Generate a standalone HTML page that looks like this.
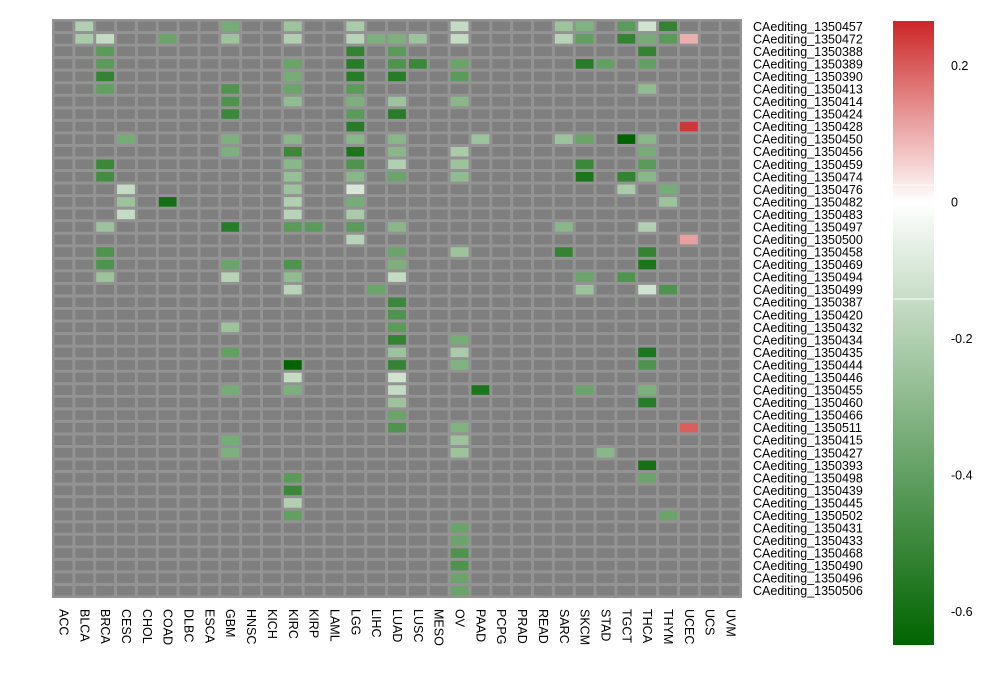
<!DOCTYPE html>
<html><head><meta charset="utf-8"><style>
body{margin:0;background:#fff;}
svg{display:block;font-family:"Liberation Sans",sans-serif;}
</style></head><body>
<svg id="chart" width="1003" height="674"></svg>
<script>
const cancers=["ACC","BLCA","BRCA","CESC","CHOL","COAD","DLBC","ESCA","GBM","HNSC","KICH","KIRC","KIRP","LAML","LGG","LIHC","LUAD","LUSC","MESO","OV","PAAD","PCPG","PRAD","READ","SARC","SKCM","STAD","TGCT","THCA","THYM","UCEC","UCS","UVM"];
const events=["1350457","1350472","1350388","1350389","1350390","1350413","1350414","1350424","1350428","1350450","1350456","1350459","1350474","1350476","1350482","1350483","1350497","1350500","1350458","1350469","1350494","1350499","1350387","1350420","1350432","1350434","1350435","1350444","1350446","1350455","1350460","1350466","1350511","1350415","1350427","1350393","1350498","1350439","1350445","1350502","1350431","1350433","1350468","1350490","1350496","1350506"];
// [rowIndex, colIndex, value]
const cells=[
[0,1,-0.2],[0,8,-0.35],[0,11,-0.25],[0,14,-0.22],[0,19,-0.15],[0,24,-0.25],[0,25,-0.32],[0,27,-0.42],[0,28,-0.12],[0,29,-0.52],
[1,1,-0.22],[1,2,-0.15],[1,5,-0.38],[1,8,-0.25],[1,11,-0.2],[1,14,-0.18],[1,15,-0.33],[1,16,-0.33],[1,17,-0.25],[1,19,-0.15],[1,24,-0.18],[1,25,-0.4],[1,27,-0.52],[1,28,-0.35],[1,29,-0.42],[1,30,0.1],
[2,2,-0.42],[2,14,-0.52],[2,16,-0.42],[2,28,-0.52],
[3,2,-0.42],[3,11,-0.38],[3,14,-0.55],[3,16,-0.45],[3,17,-0.5],[3,19,-0.38],[3,25,-0.55],[3,26,-0.4],[3,28,-0.4],
[4,2,-0.52],[4,11,-0.35],[4,14,-0.55],[4,16,-0.55],[4,19,-0.42],
[5,2,-0.4],[5,8,-0.45],[5,11,-0.38],[5,14,-0.42],[5,28,-0.28],
[6,8,-0.45],[6,11,-0.28],[6,14,-0.33],[6,16,-0.25],[6,19,-0.3],
[7,8,-0.5],[7,14,-0.42],[7,16,-0.55],
[8,14,-0.55],[8,30,0.25],
[9,3,-0.35],[9,8,-0.33],[9,11,-0.3],[9,14,-0.3],[9,16,-0.3],[9,20,-0.25],[9,24,-0.25],[9,25,-0.38],[9,27,-0.65],[9,28,-0.3],
[10,8,-0.33],[10,11,-0.5],[10,14,-0.58],[10,16,-0.3],[10,19,-0.22],[10,28,-0.35],
[11,2,-0.5],[11,11,-0.3],[11,14,-0.45],[11,16,-0.2],[11,19,-0.25],[11,25,-0.5],[11,28,-0.42],
[12,2,-0.48],[12,11,-0.27],[12,14,-0.3],[12,16,-0.38],[12,19,-0.28],[12,25,-0.58],[12,27,-0.52],[12,28,-0.3],
[13,3,-0.15],[13,11,-0.25],[13,14,-0.1],[13,27,-0.22],[13,29,-0.35],
[14,3,-0.25],[14,5,-0.6],[14,11,-0.2],[14,14,-0.35],[14,29,-0.25],
[15,3,-0.15],[15,11,-0.18],[15,14,-0.22],
[16,2,-0.25],[16,8,-0.55],[16,11,-0.42],[16,12,-0.42],[16,14,-0.42],[16,16,-0.3],[16,24,-0.3],[16,28,-0.2],
[17,14,-0.18],[17,30,0.12],
[18,2,-0.45],[18,16,-0.38],[18,19,-0.25],[18,24,-0.52],[18,28,-0.52],
[19,2,-0.45],[19,8,-0.38],[19,11,-0.45],[19,16,-0.33],[19,28,-0.58],
[20,2,-0.25],[20,8,-0.18],[20,11,-0.28],[20,16,-0.15],[20,25,-0.38],[20,27,-0.45],
[21,11,-0.18],[21,15,-0.38],[21,25,-0.25],[21,28,-0.12],[21,29,-0.45],
[22,16,-0.5],
[23,16,-0.45],
[24,8,-0.25],[24,16,-0.42],
[25,16,-0.52],[25,19,-0.35],
[26,8,-0.4],[26,16,-0.25],[26,19,-0.22],[26,28,-0.58],
[27,11,-0.65],[27,16,-0.52],[27,19,-0.32],[27,28,-0.45],
[28,11,-0.15],[28,16,-0.12],
[29,8,-0.35],[29,11,-0.33],[29,16,-0.15],[29,20,-0.58],[29,25,-0.38],[29,28,-0.33],
[30,16,-0.25],[30,28,-0.55],
[31,16,-0.38],
[32,16,-0.45],[32,19,-0.32],[32,30,0.2],
[33,8,-0.35],[33,19,-0.25],
[34,8,-0.33],[34,19,-0.25],[34,26,-0.3],
[35,28,-0.6],
[36,11,-0.42],[36,28,-0.38],
[37,11,-0.5],
[38,11,-0.2],
[39,11,-0.4],[39,29,-0.38],
[40,19,-0.38],[41,19,-0.38],[42,19,-0.45],[43,19,-0.45],[44,19,-0.38],[45,19,-0.38]
];
const legendTicks=[0.2,0,-0.2,-0.4,-0.6];

const NS="http://www.w3.org/2000/svg";
const svg=document.getElementById('chart');
function mk(t,a,p){const e=document.createElementNS(NS,t);for(const k in a)e.setAttribute(k,a[k]);(p||svg).appendChild(e);return e;}
const X0=53,X1=741,Y0=20,Y1=597;
const cw=(X1-X0)/cancers.length, rh=(Y1-Y0)/events.length;
const xPos=i=>X0+i*cw, yPos=i=>Y0+i*rh;
const vmin=-0.65,vmax=0.27;
function color(v){
  if(v<0){const t=Math.min(1,v/vmin);return `rgb(${Math.round(255-255*t)},${Math.round(255-155*t)},${Math.round(255-255*t)})`;}
  const t=Math.min(1,v/vmax);return `rgb(${Math.round(255-50*t)},${Math.round(255-217*t)},${Math.round(255-217*t)})`;
}
const panel=mk('rect',{x:X0-1,y:Y0-1,width:X1-X0+2,height:Y1-Y0+2,fill:'#939393'});


const lookup={};cells.forEach(c=>lookup[c[0]+'_'+c[1]]=c[2]);
for(let r=0;r<events.length;r++){for(let c=0;c<cancers.length;c++){
  const v=lookup[r+'_'+c];
  const el=mk('rect',{x:xPos(c)+1.5,y:yPos(r)+1.5,width:cw-3,height:rh-3,fill:v===undefined?'#7f7f7f':color(v)});
  
  
}}
cancers.forEach((n,i)=>{
  const cx=xPos(i)+cw/2-4;
  const t=mk('text',{x:0,y:0,'font-size':12.5,fill:'#000',transform:`translate(${cx},609) rotate(90)`});
  t.textContent=n;
  
  
});
events.forEach((n,i)=>{
  const t=mk('text',{x:753,y:yPos(i)+rh/2+4.5,'font-size':12.5,fill:'#000'});
  t.textContent='CAediting_'+n;
  
  
});
// legend
const defs=mk('defs',{});
const g=mk('linearGradient',{id:'lg',x1:0,y1:0,x2:0,y2:1},defs);
const LT=21,LB=645;
const ly=v=>202-(v/0.2)*136.5;
const stops=[[vmax,color(vmax)],[0,'#ffffff'],[vmin,color(vmin)]];
stops.forEach(s=>mk('stop',{offset:((ly(s[0])-LT)/(LB-LT)),'stop-color':s[1]},g));
const bar=mk('rect',{x:893,y:LT,width:41,height:LB-LT,fill:'url(#lg)'});


mk('line',{x1:893,x2:934,y1:185,y2:185,stroke:'#fff','stroke-width':1});
mk('line',{x1:893,x2:934,y1:299,y2:299,stroke:'#fff','stroke-width':1});
legendTicks.forEach(v=>{
  const t=mk('text',{x:951,y:ly(v)+4.5,'font-size':12.5,fill:'#000'});
  t.textContent=String(v);
  
  
});
</script>
</body></html>
